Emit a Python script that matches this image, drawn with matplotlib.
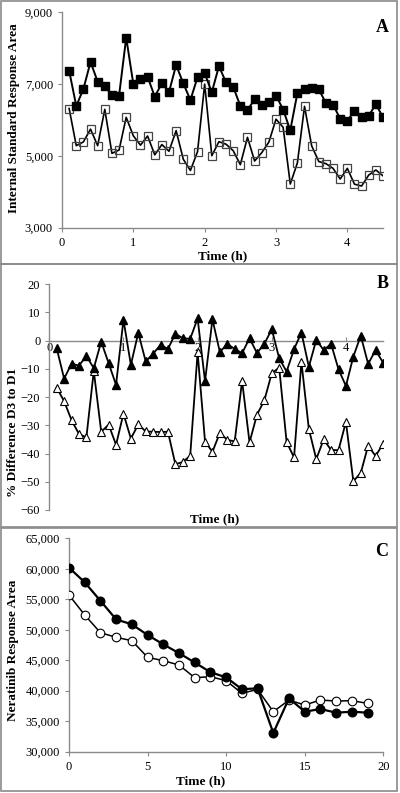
import matplotlib
matplotlib.use('Agg')
import matplotlib.pyplot as plt
from matplotlib.patches import Rectangle
from matplotlib.ticker import FuncFormatter

# ---- data ----
t_ab = [0.1, 0.2, 0.3, 0.4, 0.5, 0.6, 0.7, 0.8, 0.9, 1.0,
        1.1, 1.2, 1.3, 1.4, 1.5, 1.6, 1.7, 1.8, 1.9, 2.0,
        2.1, 2.2, 2.3, 2.4, 2.5, 2.6, 2.7, 2.8, 2.9, 3.0,
        3.1, 3.2, 3.3, 3.4, 3.5, 3.6, 3.7, 3.8, 3.9, 4.0,
        4.1, 4.2, 4.3, 4.4, 4.5]

# panel A: internal standard response area
a_filled = [7375, 6390, 6864, 7616, 7068, 6947, 6687, 6678, 8294, 7003,
            7133, 7207, 6650, 7022, 6780, 7532, 7022, 6557, 7189, 7300,
            6771, 7500, 7045, 6920, 6395, 6279, 6572, 6410, 6500, 6680,
            6292, 5712, 6750, 6868, 6905, 6850, 6475, 6428, 6032, 5976,
            6260, 6074, 6121, 6440, 6074]
a_open = [6320, 5285, 5390, 5745, 5285, 6297, 5071, 5164, 6074, 5560,
          5300, 5554, 5030, 5315, 5130, 5705, 4908, 4595, 5118, 6998,
          5006, 5396, 5325, 5145, 4755, 5517, 4858, 5090, 5385, 6022,
          5796, 4217, 4806, 6380, 5280, 4843, 4784, 4653, 4356, 4653,
          4212, 4161, 4467, 4607, 4445]

# panel B: % difference D3 to D1
b_filled = [-2.8, -13.5, -8.2, -8.9, -5.5, -9.8, -0.4, -8.0, -15.7, 7.3,
            -8.6, 2.7, -7.4, -4.7, -1.5, -3.0, 2.4, 0.8, 0.6, 7.8,
            -14.4, 7.5, -4.1, -1.2, -3.0, -4.5, 0.8, -4.4, -1.2, 4.0,
            -6.3, -11.0, -3.1, 2.8, -9.3, 0.2, -3.4, -1.2, -10.2, -16.1,
            -5.7, 1.7, -8.3, -3.4, -7.8]
b_open = [-16.7, -21.5, -28.2, -33.1, -34.3, -10.8, -32.3, -29.8, -36.9, -25.9,
          -34.7, -29.7, -32.2, -32.3, -32.4, -32.3, -43.8, -43.0, -40.8, -4.2,
          -35.8, -39.4, -32.7, -35.2, -35.7, -14.3, -36.1, -26.3, -21.2, -11.6,
          -9.6, -35.9, -41.4, -7.6, -31.3, -42.0, -35.0, -38.8, -38.8, -28.8,
          -49.8, -46.9, -37.2, -40.9, -36.6]

# panel C: neratinib response area
t_c = [0, 1, 2, 3, 4, 5, 6, 7, 8, 9, 10, 11, 12, 13, 14, 15, 16, 17, 18, 19]
c_filled = [60190, 57780, 54750, 51700, 50890, 49140, 47610, 46160, 44630, 43040,
            42190, 40250, 40390, 33060, 38750, 36560, 37000, 36400, 36560, 36400]
c_open = [55700, 52420, 49520, 48760, 48210, 45480, 44930, 44220, 42140, 42300,
          41650, 39570, 40220, 36560, 38470, 37660, 38470, 38310, 38370, 37930]

plt.rcParams['font.family'] = ['Liberation Serif', 'DejaVu Serif']
plt.rcParams['font.size'] = 9

W, H = 400, 793
fig = plt.figure(figsize=(4.0, 7.93), dpi=100)
GRAY = '#8a8a8a'


def fx(px):
    return px / W


def fy(py):
    return 1 - py / H


def add_axes(l, t, r, b):
    return fig.add_axes([fx(l), fy(b), fx(r - l), (b - t) / H])


def style(ax):
    for s in ['top', 'right']:
        ax.spines[s].set_visible(False)
    for s in ['left', 'bottom']:
        ax.spines[s].set_color(GRAY)
        ax.spines[s].set_linewidth(1.0)
    ax.tick_params(colors=GRAY, labelcolor='black', labelsize=9, length=3, width=0.8)


def labels(ax, ylab, ylab_xy, xlab_xy):
    # label positions given in pixels (x = right edge of y label, y = centre)
    ax.set_ylabel(ylab, fontweight='bold', fontsize=9.5)
    ax.yaxis.set_label_coords(fx(ylab_xy[0]), fy(ylab_xy[1]), transform=fig.transFigure)
    ax.set_xlabel('Time (h)', fontweight='bold', fontsize=9.5)
    ax.xaxis.label.set_va('center')
    ax.xaxis.set_label_coords(fx(xlab_xy[0]), fy(xlab_xy[1]), transform=fig.transFigure)


thou = FuncFormatter(lambda v, p: '{:,.0f}'.format(v))

# panel borders
for top, bot in [(1, 264), (264, 527), (528, 791)]:
    fig.patches.append(Rectangle((fx(1), fy(bot)), fx(396), (bot - top) / H,
                                 transform=fig.transFigure, fill=False,
                                 edgecolor=GRAY, lw=1.2))

# ---- panel A ----
ax = add_axes(62, 12.3, 383, 227.7)
style(ax)
ax.plot(t_ab, a_open, color='black', lw=1.2, marker='s', ms=6.3,
        mfc='none', mec='#444444', mew=0.9, zorder=3)
ax.plot(t_ab, a_filled, color='black', lw=1.4, marker='s', ms=6.3,
        mfc='black', mec='black', zorder=4)
ax.set_xlim(0, 4.5)
ax.set_ylim(3000, 9000)
ax.set_xticks([0, 1, 2, 3, 4])
ax.set_yticks([3000, 5000, 7000, 9000])
ax.yaxis.set_major_formatter(thou)
labels(ax, 'Internal Standard Response Area', (20, 118), (223, 256))
fig.text(fx(382), fy(27), 'A', fontsize=13, fontweight='bold', ha='center', va='center')

# ---- panel B ----
ax = add_axes(49.3, 284, 383, 510)
style(ax)
ax.spines['bottom'].set_position(('data', 0))
ax.plot(t_ab, b_open, color='black', lw=1.3, marker='^', ms=6.3,
        mfc='white', mec='black', mew=0.8, zorder=3)
ax.plot(t_ab, b_filled, color='black', lw=1.3, marker='^', ms=6.3,
        mfc='black', mec='black', zorder=4)
ax.set_xlim(0, 4.5)
ax.set_ylim(-60, 20)
ax.set_xticks([0, 1, 2, 3, 4])
ax.set_yticks([-60, -50, -40, -30, -20, -10, 0, 10, 20])
ax.tick_params(axis='x', direction='in', pad=1)
labels(ax, '% Difference D3 to D1', (19, 432), (215, 519))
fig.text(fx(383), fy(284), 'B', fontsize=13, fontweight='bold', ha='center', va='center')

# ---- panel C ----
ax = add_axes(69, 538.3, 383.3, 751.7)
style(ax)
ax.plot(t_c, c_open, color='black', lw=1.1, marker='o', ms=6.2,
        mfc='white', mec='black', mew=0.8, zorder=3)
ax.plot(t_c, c_filled, color='black', lw=1.6, marker='o', ms=6.2,
        mfc='black', mec='black', zorder=4)
ax.set_xlim(0, 20)
ax.set_ylim(30000, 65000)
ax.set_xticks([0, 5, 10, 15, 20])
ax.set_yticks([30000, 35000, 40000, 45000, 50000, 55000, 60000, 65000])
ax.yaxis.set_major_formatter(thou)
labels(ax, 'Neratinib Response Area', (19, 650), (201, 781))
fig.text(fx(382), fy(551), 'C', fontsize=13, fontweight='bold', ha='center', va='center')

fig.savefig('out.png', dpi=100)
